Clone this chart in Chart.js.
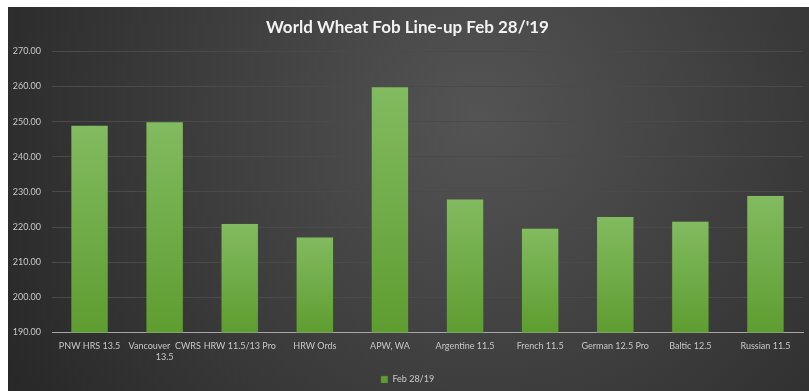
<!DOCTYPE html>
<html>
<head>
<meta charset="utf-8">
<script src="https://cdn.jsdelivr.net/npm/chart.js@4.4.1/dist/chart.umd.min.js"></script>
<style>
  html, body { margin: 0; padding: 0; background: #ffffff; }
  #wrap { position: absolute; left: 8px; top: 7px; width: 801px; height: 384px; }
  canvas { display: block; }
</style>
</head>
<body>
<div id="wrap"><canvas id="c" width="801" height="384"></canvas></div>
<script>
// FOB prices by origin / grade
const categories = [
  'PNW HRS 13.5', ['Vancouver  CWRS', '13.5'], 'HRW 11.5/13 Pro', 'HRW Ords', 'APW, WA',
  'Argentine 11.5', 'French 11.5', 'German 12.5 Pro', 'Baltic 12.5', 'Russian 11.5'
];
const seriesName = 'Feb 28/19';
const prices = [249, 250, 221, 217.2, 260, 228, 219.7, 223, 221.7, 229];
const yMin = 190, yMax = 270, yStep = 10;

// dark radial backdrop behind the whole chart
const backdrop = {
  id: 'backdrop',
  beforeDraw(chart) {
    const { ctx, width, height } = chart;
    const g = ctx.createRadialGradient(470, 110, 0, 470, 110, 560);
    g.addColorStop(0, '#545454');
    g.addColorStop(1, '#262626');
    ctx.save();
    ctx.fillStyle = g;
    ctx.fillRect(0, 0, width, height);
    ctx.restore();
  }
};

// each bar shaded lighter at its top, deeper green at its base
function barFill(context) {
  const chart = context.chart;
  const area = chart.chartArea;
  if (!area) return '#70ae45';
  const y = chart.scales.y;
  const v = context.raw;
  const top = y.getPixelForValue(v);
  const bottom = y.getPixelForValue(yMin);
  const g = chart.ctx.createLinearGradient(0, top, 0, bottom);
  g.addColorStop(0, '#82bb60');
  g.addColorStop(1, '#5e9d30');
  return g;
}

new Chart(document.getElementById('c'), {
  type: 'bar',
  data: {
    labels: categories,
    datasets: [{
      label: seriesName,
      data: prices,
      backgroundColor: barFill,
      borderColor: 'rgba(70,110,40,0.6)',
      borderWidth: 0.6,
      borderSkipped: 'bottom',
      barPercentage: 0.5,
      categoryPercentage: 1.0
    }]
  },
  options: {
    responsive: false,
    animation: false,
    layout: { padding: { left: 4, right: 6, top: 0, bottom: -3 } },
    plugins: {
      title: {
        display: true,
        text: "World Wheat Fob Line-up Feb 28/'19",
        color: '#f2f2f2',
        font: { family: 'Lato', size: 17, weight: 'bold' },
        padding: { top: 10, bottom: 14 }
      },
      legend: {
        position: 'bottom',
        labels: {
          color: '#c8c8c8',
          font: { family: 'Lato', size: 9 },
          boxWidth: 7,
          boxHeight: 7,
          padding: 5
        }
      },
      tooltip: { enabled: false }
    },
    scales: {
      x: {
        grid: { display: false, drawTicks: false },
        border: { display: true, color: '#a6a6a6', width: 1 },
        ticks: {
          color: '#c8c8c8',
          font: { family: 'Lato', size: 9 },
          padding: 8,
          maxRotation: 0,
          autoSkip: false
        }
      },
      y: {
        min: yMin,
        max: yMax,
        grid: { color: '#4a4a4a', lineWidth: 1, drawTicks: false },
        border: { display: false },
        ticks: {
          stepSize: yStep,
          color: '#c8c8c8',
          font: { family: 'Lato', size: 9 },
          padding: 11,
          callback: v => v.toFixed(2)
        },
        afterFit(scale) { scale.width = 40; }
      }
    }
  },
  plugins: [backdrop]
});
</script>
</body>
</html>
